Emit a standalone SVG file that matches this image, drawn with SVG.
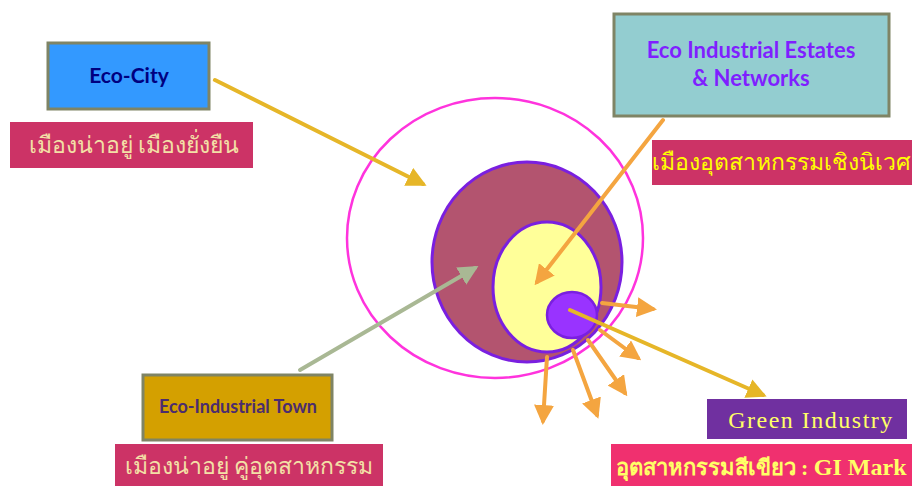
<svg xmlns="http://www.w3.org/2000/svg" width="912" height="486" viewBox="0 0 912 486">
<style>
.box{stroke:#7f8465;stroke-width:3}
.en{font-family:Lato,"Open Sans",sans-serif;font-weight:bold;text-anchor:middle}
.th{font-family:"Noto Sans","DejaVu Sans",sans-serif;font-size:23px;text-anchor:middle}
.lab{fill:#cc3366}
.arr{fill:none;stroke-width:4;stroke-linecap:round}
</style>
<defs>
<marker id="hy" viewBox="0 0 10 10" refX="8" refY="5" markerWidth="5" markerHeight="5" orient="auto" markerUnits="strokeWidth"><path d="M0,0 L10,5 L0,10 Z" fill="#e6b628"/></marker>
<marker id="ho" viewBox="0 0 10 10" refX="8" refY="5" markerWidth="5" markerHeight="5" orient="auto" markerUnits="strokeWidth"><path d="M0,0 L10,5 L0,10 Z" fill="#f4a540"/></marker>
<marker id="hg" viewBox="0 0 10 10" refX="8" refY="5" markerWidth="5" markerHeight="5" orient="auto" markerUnits="strokeWidth"><path d="M0,0 L10,5 L0,10 Z" fill="#a9b894"/></marker>
</defs>

<g id="circles">
<ellipse cx="495" cy="238" rx="148" ry="140" fill="none" stroke="#ff33dd" stroke-width="2.5"/>
<ellipse cx="527" cy="262" rx="95" ry="100" fill="#b3546f" stroke="#7a1fe0" stroke-width="3"/>
<ellipse cx="547" cy="287" rx="54" ry="65" fill="#ffff99" stroke="#7a1fe0" stroke-width="3"/>
<ellipse cx="572" cy="315" rx="25" ry="23" fill="#9933ff" stroke="#7a1fe0" stroke-width="2.5"/>
</g>

<g id="eco-city">
<rect class="box" x="48" y="43" width="161" height="66" fill="#3399ff"/>
<text class="en" x="129" y="83" font-size="21" fill="#00007f">Eco-City</text>
</g>
<g id="eco-city-th">
<rect class="lab" x="10" y="122" width="243" height="46"/>
<text class="th" x="134" y="153" fill="#f3e0a6">เมืองน่าอยู่ เมืองยั่งยืน</text>
</g>

<g id="eco-estates">
<rect class="box" x="614" y="14" width="275" height="102" fill="#93cdd0"/>
<text class="en" x="751" y="58" font-size="22" fill="#7f1fff">Eco Industrial Estates</text>
<text class="en" x="751" y="86" font-size="22" fill="#7f1fff">&amp; Networks</text>
</g>
<g id="eco-estates-th">
<rect class="lab" x="652" y="140" width="262" height="45"/>
<text class="th" x="781" y="170" fill="#ffff00" font-size="21">เมืองอุตสาหกรรมเชิงนิเวศ</text>
</g>

<g id="eco-town">
<rect class="box" x="143" y="375" width="189" height="65" fill="#d4a000"/>
<text class="en" x="238" y="413" font-size="18" fill="#4b2c6e" font-weight="600">Eco-Industrial Town</text>
</g>
<g id="eco-town-th">
<rect class="lab" x="115" y="444" width="268" height="42"/>
<text class="th" x="249" y="474" fill="#f3e0a6">เมืองน่าอยู่ คู่อุตสาหกรรม</text>
</g>

<g id="green-industry">
<rect x="707" y="399" width="200" height="40" fill="#7030a0"/>
<text x="811" y="428" font-family="Liberation Serif,serif" font-size="24" letter-spacing="1.5" fill="#ffff66" text-anchor="middle">Green Industry</text>
</g>
<g id="gi-mark">
<rect x="611" y="444" width="301" height="42" fill="#f0306f"/>
<text x="761" y="475" font-family="Liberation Serif,'Noto Sans',serif" font-size="22" font-weight="bold" fill="#ffff66" text-anchor="middle">อุตสาหกรรมสีเขียว : <tspan font-size="24">GI Mark</tspan></text>
</g>

<g id="connectors">
<line class="arr" x1="215" y1="80" x2="423" y2="184" stroke="#e6b628" marker-end="url(#hy)"/>
<line class="arr" x1="663" y1="120" x2="537" y2="282" stroke="#f4a540" marker-end="url(#ho)"/>
<line class="arr" x1="300" y1="370" x2="475" y2="268" stroke="#a9b894" marker-end="url(#hg)"/>
<line class="arr" x1="570" y1="310" x2="763" y2="395" stroke="#e6b628" marker-end="url(#hy)"/>
<line class="arr" x1="602" y1="303" x2="653" y2="309" stroke="#f4a540" marker-end="url(#ho)"/>
<line class="arr" x1="600" y1="330" x2="638" y2="358" stroke="#f4a540" marker-end="url(#ho)"/>
<line class="arr" x1="588" y1="340" x2="625" y2="393" stroke="#f4a540" marker-end="url(#ho)"/>
<line class="arr" x1="573" y1="350" x2="597" y2="415" stroke="#f4a540" marker-end="url(#ho)"/>
<line class="arr" x1="547" y1="357" x2="543" y2="421" stroke="#f4a540" marker-end="url(#ho)"/>
</g>
</svg>
